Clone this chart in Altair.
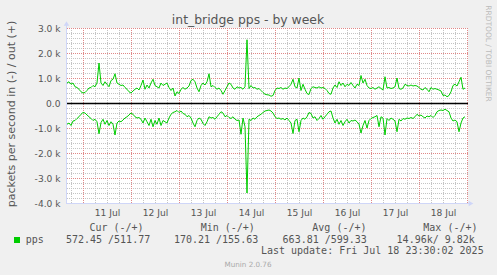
import altair as alt
import pandas as pd

# ---------------- data (packets per second, hourly samples) ----------------
out_pps = [
    800, 850, 750, 800, 650, 620, 550, 450, 400, 420,
    500, 600, 620, 700, 650, 800, 1600, 800, 700, 850,
    750, 650, 900, 950, 1170, 800, 750, 700, 720, 620,
    550, 450, 400, 480, 550, 600, 520, 700, 920, 550,
    720, 600, 800, 950, 700, 650, 600, 800, 700, 750,
    800, 620, 500, 600, 280, 450, 380, 550, 620, 550,
    600, 680, 900, 950, 850, 600, 450, 700, 800, 720,
    850, 1170, 650, 700, 620, 550, 600, 500, 350, 500,
    650, 800, 750, 600, 550, 650, 600, 620, 550, 650,
    2530, 580, 700, 600, 620, 550, 580, 500, 420, 350,
    330, 320, 270, 300, 500, 600, 580, 620, 550, 600,
    580, 650, 750, 950, 650, 600, 1000, 500, 750, 550,
    380, 340, 580, 650, 620, 600, 650, 600, 620, 580,
    500, 380, 350, 600, 720, 620, 850, 700, 800, 650,
    750, 700, 820, 700, 600, 750, 700, 1100, 800, 950,
    700, 600, 580, 620, 550, 600, 650, 580, 520, 1050,
    600, 620, 580, 600, 650, 1000, 580, 550, 600, 750,
    700, 680, 720, 680, 700, 680, 620, 550, 520, 620,
    550, 450, 620, 550, 580, 550, 520, 480, 300, 320,
    250, 300, 450, 700, 750, 680, 850, 1030, 550, 600,
]
in_pps = [
    -850, -800, -900, -720, -700, -620, -550, -450, -380, -400,
    -480, -550, -620, -700, -650, -750, -1230, -780, -650, -850,
    -700, -900, -750, -850, -1280, -800, -720, -750, -680, -600,
    -550, -480, -400, -450, -550, -600, -580, -650, -800, -600,
    -750, -900, -650, -950, -700, -850, -600, -900, -700, -750,
    -800, -600, -450, -380, -350, -300, -380, -320, -420, -450,
    -550, -500, -600, -800, -950, -700, -600, -650, -820, -900,
    -750, -550, -600, -580, -650, -550, -450, -350, -400, -550,
    -500, -580, -620, -550, -650, -700, -680, -1250, -600, -950,
    -3600, -650, -700, -600, -650, -550, -500, -450, -380, -320,
    -300, -280, -320, -400, -550, -620, -600, -650, -620, -680,
    -600, -700, -800, -1220, -700, -650, -1150, -700, -600, -650,
    -550, -380, -420, -600, -550, -700, -620, -500, -650, -550,
    -450, -350, -320, -600, -800, -650, -850, -700, -900, -750,
    -650, -800, -700, -720, -680, -750, -850, -1200, -900, -700,
    -1000, -700, -620, -580, -550, -500, -950, -550, -600, -1280,
    -620, -700, -600, -650, -720, -1150, -650, -720, -620, -650,
    -600, -620, -580, -620, -550, -450, -520, -480, -550, -600,
    -520, -550, -500, -580, -500, -350, -300, -280, -300, -250,
    -300, -350, -600, -720, -680, -750, -1150, -800, -600, -550,
]
first_sample = "2025-07-10 16:00"
y_ticks = [-4000, -3000, -2000, -1000, 0, 1000, 2000, 3000]
day_labels = ["2025-07-11", "2025-07-12", "2025-07-13", "2025-07-14",
              "2025-07-15", "2025-07-16", "2025-07-17", "2025-07-18"]

legend_headers = ["Cur (-/+)", "Min (-/+)", "Avg (-/+)", "Max (-/+)"]
legend_values = ["572.45 /511.77", "170.21 /155.63", "663.81 /599.33", "14.96k/  9.82k"]
last_update = "Last update: Fri Jul 18 23:30:02 2025"

# ---------------- helpers ----------------
HOUR = 3600 * 1000


def ms(s):
    return int(pd.Timestamp(s, tz="UTC").timestamp() * 1000)


t0 = ms(first_sample)
n = len(out_pps)
times = [t0 + i * HOUR for i in range(n)]
df = pd.DataFrame({
    "t": times + times,
    "v": out_pps + in_pps,
    "s": ["out"] * n + ["in"] * n,
})

dom_start = ms("2025-07-10 15:30")
dom_end = dom_start + 201 * HOUR

# grid
minor_v = []
major_v = []
tt = ms("2025-07-10 18:00")
while tt <= dom_end:
    if (tt // HOUR) % 24 == 0:
        major_v.append(tt)
    else:
        minor_v.append(tt)
    tt += 6 * HOUR
minor_h = [v for v in range(-3800, 3000, 200) if v % 1000 != 0]
major_h = [v for v in y_ticks if v not in (0, -4000)]

noon_ticks = [ms(d + " 12:00") for d in day_labels]

FONT = "DejaVu Sans"
MONO = "DejaVu Sans Mono"
TXT = "#555555"
AXC = "#CFD6F8"

xscale = alt.Scale(type="utc", domain=[dom_start, dom_end], nice=False)
yscale = alt.Scale(domain=[-4000, 3000], nice=False, zero=False)
xaxis = alt.Axis(values=noon_ticks, labelExpr="utcFormat(datum.value, '%d %b')",
                 title=None, grid=False, ticks=False, tickSize=0, domain=False,
                 labelPadding=12.7, labelBaseline="alphabetic", labelFont=FONT,
                 labelFontSize=9.1, labelColor=TXT, labelAngle=0)
yaxis = alt.Axis(values=y_ticks,
                 labelExpr="datum.value == 0 ? '0.0' : (datum.value < 0 ? '-' : '') + format(abs(datum.value) / 1000, '.1f') + ' k'",
                 title=None, grid=False, ticks=False, tickSize=0, domain=False,
                 labelPadding=6, labelFont=FONT, labelFontSize=9.1, labelColor=TXT)


def X(f):
    return alt.X(f, type="temporal", scale=xscale, axis=xaxis)


def Y(f):
    return alt.Y(f, type="quantitative", scale=yscale, axis=yaxis)


one = pd.DataFrame({"k": [0]})


def txt(text, x, y, size, color=TXT, font=FONT, align="left", angle=0, baseline="alphabetic"):
    return alt.Chart(one).mark_text(
        text=text, align=align, baseline=baseline, fontSize=size, color=color,
        font=font, angle=angle
    ).encode(x=alt.value(x), y=alt.value(y))


grid_minor_h = alt.Chart(pd.DataFrame({"v": minor_h})).mark_rule(
    color="#C4C4C4", strokeDash=[1, 1], strokeWidth=1, yOffset=0.5).encode(y=Y("v"))
grid_minor_v = alt.Chart(pd.DataFrame({"t": minor_v})).mark_rule(
    color="#C4C4C4", strokeDash=[1, 1], strokeWidth=1, xOffset=0.5).encode(x=X("t"))
grid_major_h = alt.Chart(pd.DataFrame({"v": major_h})).mark_rule(
    color="#E08888", strokeDash=[1, 1], strokeWidth=1, yOffset=0.5).encode(y=Y("v"))
grid_major_v = alt.Chart(pd.DataFrame({"t": major_v})).mark_rule(
    color="#E08888", strokeDash=[1, 1], strokeWidth=1, xOffset=0.5).encode(x=X("t"))
zero_line = alt.Chart(pd.DataFrame({"v": [0]})).mark_rule(
    color="black", strokeWidth=1.5, yOffset=0.5).encode(y=Y("v"))

lines = alt.Chart(df).mark_line(color="#00CC00", strokeWidth=1).encode(
    x=X("t"), y=Y("v"), detail="s:N")

# axis lines and arrows (decorations)
y_axis_line = alt.Chart(one).mark_rule(color=AXC, strokeWidth=1).encode(
    x=alt.value(0.5), y=alt.value(-5), y2=alt.value(175.5))
x_axis_line = alt.Chart(one).mark_rule(color=AXC, strokeWidth=1).encode(
    x=alt.value(0), x2=alt.value(404), y=alt.value(175.5))
arrow_up = alt.Chart(one).mark_point(shape="triangle-up", filled=True, size=30,
                                     color=AXC, opacity=1).encode(
    x=alt.value(0.5), y=alt.value(-4.5))
arrow_right = alt.Chart(one).mark_point(shape="triangle-right", filled=True, size=30,
                                        color=AXC, opacity=1).encode(
    x=alt.value(405), y=alt.value(175.5))

texts = [
    txt("int_bridge pps - by week", 182, -4, 12.4, align="center"),
    txt("packets per second in (-) / out (+)", -53.7, 86, 11, align="center",
        angle=270, baseline="middle"),
    txt("RRDTOOL / TOBI OETIKER", 422.3, 25.5, 7.5, color="#BBBBBB", align="center",
        angle=90, baseline="middle"),
    txt("pps", -40.2, 214.7, 10, font=MONO),
    txt(last_update, 194.9, 226.3, 10, font=MONO),
    txt("Munin 2.0.76", 182, 238.7, 7.2, color="#AAAAAA", align="center"),
]
header_x = [23.4, 134.7, 246.3, 357.3]
value_x = [-0.1, 107.9, 216.6, 330.6]
for h, hx in zip(legend_headers, header_x):
    texts.append(txt(h, hx, 203, 10, font=MONO))
for v, vx in zip(legend_values, value_x):
    texts.append(txt(v, vx, 214.7, 10, font=MONO))

swatch = alt.Chart(one).mark_square(size=36, color="#00CC00", opacity=1).encode(
    x=alt.value(-49), y=alt.value(212))

chart = alt.layer(
    grid_minor_h, grid_minor_v, grid_major_h, grid_major_v, zero_line, lines,
    y_axis_line, x_axis_line, arrow_up, arrow_right, swatch, *texts
).properties(
    width=402, height=175,
    padding={"left": 66, "top": 28, "right": 29, "bottom": 72},
    autosize=alt.AutoSizeParams(type="none"),
).configure(background="#F0F0F0").configure_view(fill="white", stroke=None)

chart.save("out.html", embed_options={"renderer": "svg", "actions": False})
